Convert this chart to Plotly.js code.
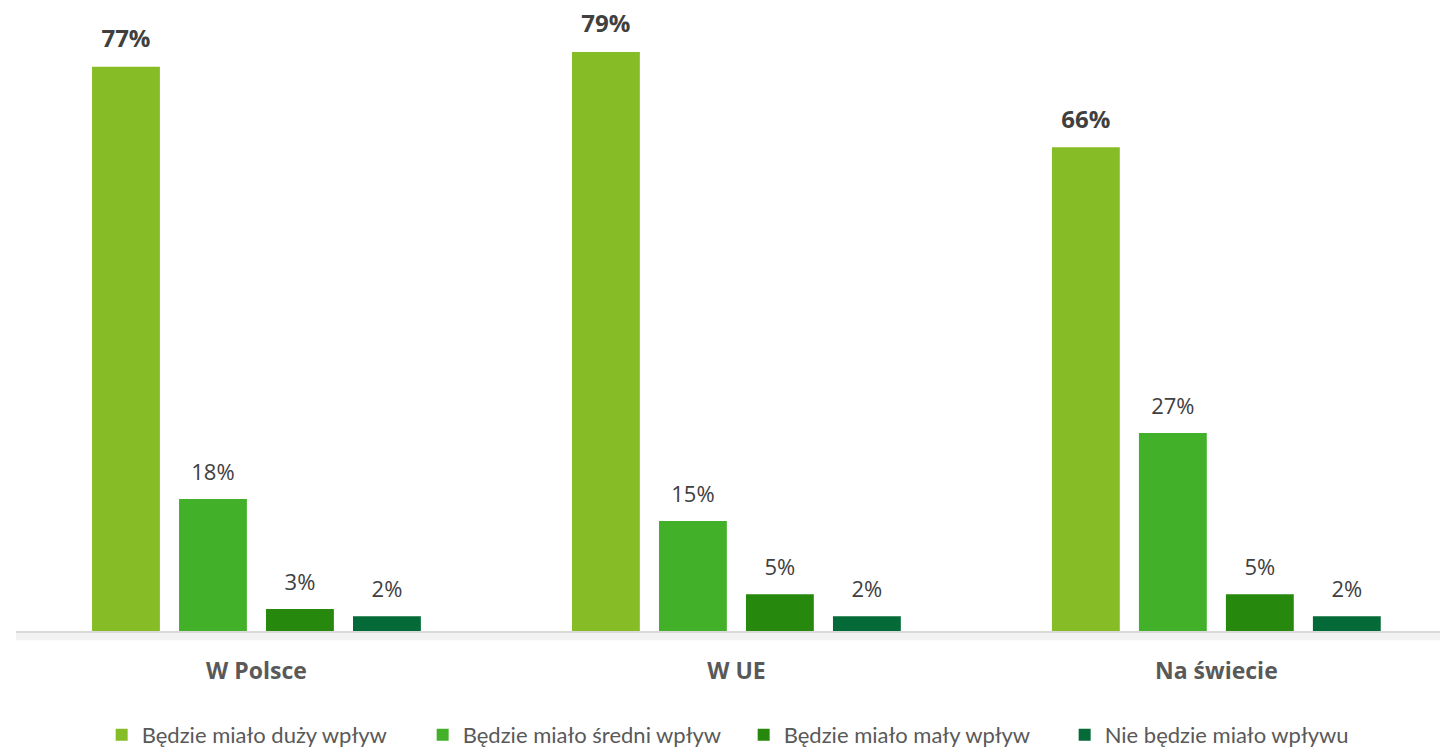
<!DOCTYPE html>
<html>
<head>
<meta charset="utf-8">
<script src="https://cdn.plot.ly/plotly-3.0.1.min.js"></script>
<style>
html,body{margin:0;padding:0;background:#fff;}
#chart{width:1440px;height:751px;}
</style>
</head>
<body>
<div id="chart"></div>
<script>
const categories = ["W Polsce", "W UE", "Na świecie"];
const seriesNames = ["Będzie miało duży wpływ", "Będzie miało średni wpływ", "Będzie miało mały wpływ", "Nie będzie miało wpływu"];
const duzy = [77, 79, 66];
const sredni = [18, 15, 27];
const maly = [3, 5, 5];
const brak = [2, 2, 2];
const colors = ["#86BC25", "#43B02A", "#26890D", "#046A38"];

const seriesValues = [duzy, sredni, maly, brak];
const barTraces = seriesValues.map((vals, i) => ({
  type: "bar",
  name: seriesNames[i],
  x: categories,
  y: vals,
  offsetgroup: "g" + i,
  marker: {color: colors[i], line: {width: 0}},
  hoverinfo: "skip"
}));
const labelTraces = seriesValues.map((vals, i) => ({
  type: "scatter",
  mode: "markers+text",
  showlegend: false,
  x: categories,
  y: vals,
  offsetgroup: "g" + i,
  marker: {size: i === 0 ? 20 : 20, opacity: 0},
  text: vals.map(v => i === 0 ? "<b>" + v + "%</b>" : v + "%"),
  textposition: "top center",
  cliponaxis: false,
  textfont: {family: "Open Sans, sans-serif", size: i === 0 ? 24 : 22, color: "#404040"},
  hoverinfo: "skip"
}));

const layout = {
  width: 1440,
  height: 751,
  margin: {l: 16, r: 0, t: 8, b: 120, autoexpand: false},
  paper_bgcolor: "#ffffff",
  plot_bgcolor: "#ffffff",
  barmode: "group",
  bargap: 0.275,
  bargroupgap: 0.22,
  scattermode: "group",
  scattergap: 0.275,
  showlegend: true,
  legend: {
    orientation: "h",
    x: 0.511, xanchor: "center",
    y: -0.167, yanchor: "middle",
    font: {family: "Lato, sans-serif", size: 22, color: "#595959"},
    entrywidth: 276,
    entrywidthmode: "pixels",
    itemwidth: 30,
    traceorder: "normal"
  },
  shapes: [{
    type: "rect", xref: "paper", yref: "paper",
    x0: 0, x1: 1, y0: -0.015, y1: 0,
    fillcolor: "#f2f2f2", line: {width: 0}, layer: "below"
  }],
  xaxis: {
    type: "category",
    range: [-0.501, 2.466],
    showline: true,
    linecolor: "#d9d9d9",
    linewidth: 2,
    ticks: "",
    tickfont: {family: "Open Sans, sans-serif", size: 23, color: "#595959", weight: "bold"},
    ticklabelstandoff: 18,
    showgrid: false,
    zeroline: false
  },
  yaxis: {
    range: [0, 85],
    visible: false,
    showgrid: false,
    zeroline: false
  },
  font: {family: "Open Sans, sans-serif"}
};

Plotly.newPlot("chart", barTraces.concat(labelTraces), layout, {displayModeBar: false, staticPlot: true});
</script>
</body>
</html>
